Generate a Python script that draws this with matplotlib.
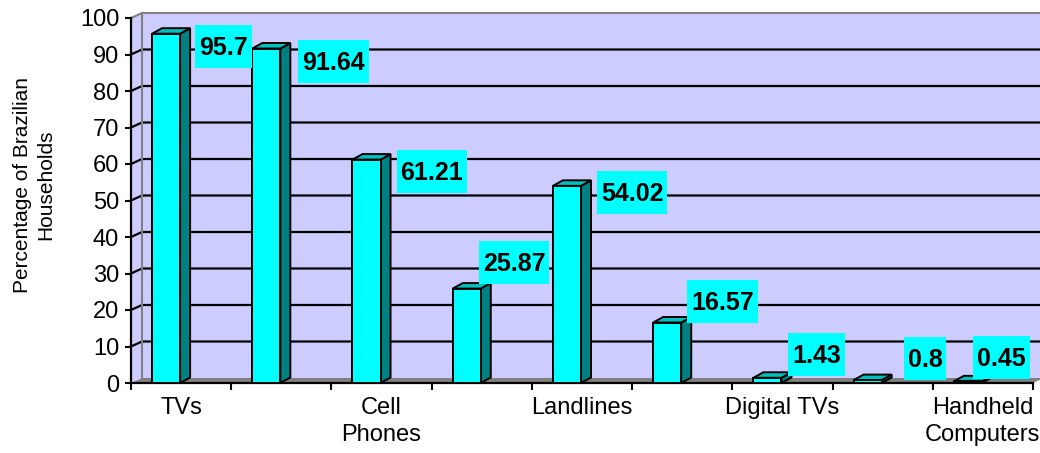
import matplotlib
matplotlib.use("Agg")
import matplotlib.pyplot as plt
from matplotlib.patches import Polygon, Rectangle
from matplotlib.transforms import IdentityTransform

plt.rcParams["font.family"] = ["Liberation Sans", "DejaVu Sans"]

# Household ownership (% of Brazilian households)
categories = ["TVs", "", "Cell\nPhones", "", "Landlines", "", "Digital TVs", "", "Handheld\nComputers"]
values = [95.7, 91.64, 61.21, 25.87, 54.02, 16.57, 1.43, 0.8, 0.45]
y_ticks = list(range(0, 101, 10))

# label box placement relative to the bar's top-right front corner (pixels: right, down)
label_offsets = [(15, 12.5), (18, 13), (16, 12), (-2, -26.5), (16, 7),
                 (6, -21), (7, -23), (22, -22), (-9, -23.5)]

W, H = 1040, 453
fig = plt.figure(figsize=(W / 100, H / 100), dpi=100)
fig.patch.set_facecolor("white")
left_px, right_px, top_px, base_px = 131, 1033, 18, 383
ax = fig.add_axes([left_px / W, 1 - base_px / H, (right_px - left_px) / W, (base_px - top_px) / H])
n = len(values)
ax.set_xlim(0, n)
ax.set_ylim(0, 100)
ax.patch.set_visible(False)

xpx = (right_px - left_px) / n
ypx = (base_px - top_px) / 100
# depth of the 3-D box and of the bars, in data units
dx, dy = 11 / xpx, 5 / ypx
bdx, bdy = 10 / xpx, 5.5 / ypx

wall = "#CCCCFF"
ax.add_patch(Polygon([(dx, dy), (n + dx, dy), (n + dx, 100 + dy), (dx, 100 + dy)],
                     closed=True, fc=wall, ec="none", clip_on=False, zorder=0))
ax.add_patch(Polygon([(0, 0), (dx, dy), (dx, 100 + dy), (0, 100)],
                     closed=True, fc=wall, ec="none", clip_on=False, zorder=0))
ax.add_patch(Polygon([(0, 0), (n, 0), (n + dx, dy), (dx, dy)],
                     closed=True, fc="#808080", ec="none", clip_on=False, zorder=1))
ax.plot([dx, dx, n + dx], [dy, 100 + dy, 100 + dy], color="#808080", lw=1.5,
        clip_on=False, zorder=0.6)
ax.plot([0, dx], [100, 100 + dy], color="#808080", lw=1.5, clip_on=False, zorder=0.6)

# gridlines on the back wall, joined to the axis along the side wall
for v in y_ticks[1:-1]:
    ax.plot([0, dx, n + dx], [v, v + dy, v + dy], color="black", lw=1.6,
            clip_on=False, zorder=0.5)

# 3-D bars
for i, v in enumerate(values):
    x0, x1 = i + 0.21, i + 0.49
    ax.add_patch(Polygon([(x1, 0), (x1 + bdx, bdy), (x1 + bdx, v + bdy), (x1, v)],
                         closed=True, fc="#008080", ec="black", lw=1.4, zorder=3))
    ax.add_patch(Polygon([(x0, v), (x1, v), (x1 + bdx, v + bdy), (x0 + bdx, v + bdy)],
                         closed=True, fc="#00C0C0", ec="black", lw=1.4, zorder=3))
    ax.add_patch(Rectangle((x0, 0), x1 - x0, v, fc="#00FFFF", ec="black", lw=1.4, zorder=3))

for side in ["top", "right"]:
    ax.spines[side].set_visible(False)
for side in ["left", "bottom"]:
    ax.spines[side].set_linewidth(1.6)
    ax.spines[side].set_zorder(2)

ax.set_yticks(y_ticks)
ax.tick_params(axis="y", length=4.5, width=1.5, pad=4, labelsize=17)
ax.set_xticks(range(n + 1))
ax.set_xticklabels([])
ax.set_xticks([i + 0.5 for i in range(n)], minor=True)
ax.set_xticklabels(categories, minor=True, fontsize=17, linespacing=1.3)
ax.tick_params(axis="x", which="major", length=5, width=1.5)
ax.tick_params(axis="x", which="minor", length=0, pad=10)

fig.text(34 / W, 1 - 185 / H, "Percentage of Brazilian\nHouseholds", rotation=90,
         ha="center", va="center", multialignment="center", fontsize=15, linespacing=1.3)

# value labels on cyan boxes
renderer = fig.canvas.get_renderer()
for i, v in enumerate(values):
    ox, oy = label_offsets[i]
    ax_x, ax_y = ax.transData.transform((i + 0.49, v))
    box_left = ax_x + ox
    cy = ax_y - oy
    t = fig.text(box_left + 4, cy - 8.5, f"{v:g}", transform=IdentityTransform(),
                 fontsize=18, fontweight="bold", ha="left", va="baseline", zorder=6)
    bb = t.get_window_extent(renderer)
    fig.add_artist(Rectangle((box_left, cy - 21.5), bb.width + 8, 43,
                             transform=IdentityTransform(), fc="#00FFFF", ec="none", zorder=5))

fig.savefig("out.png", dpi=100)
